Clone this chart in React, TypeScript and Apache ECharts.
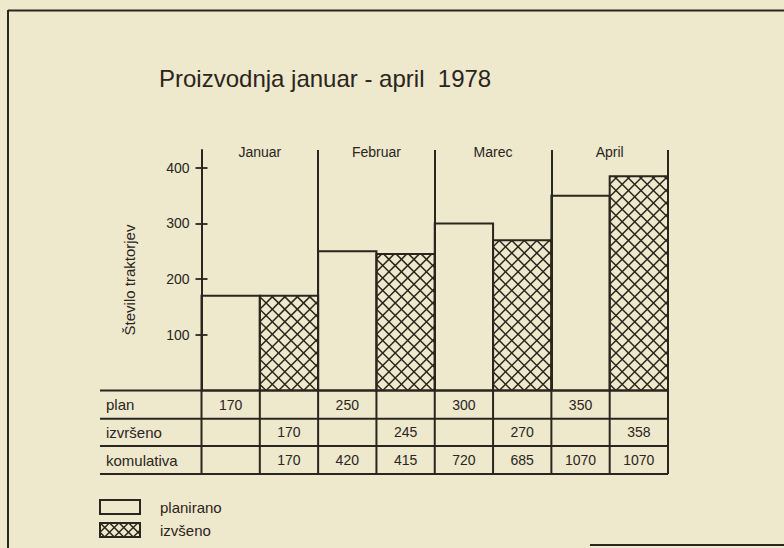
import React, { useEffect, useRef } from "react";
import * as echarts from "echarts";

// ---------- data ----------
const titleText = "Proizvodnja januar - april  1978";
const yAxisName = "Število traktorjev";
const months = ["Januar", "Februar", "Marec", "April"];
const planValues = [170, 250, 300, 350];
// bar heights as drawn (April bar reaches ~385; cumulative 685 + 385 = 1070)
const izvrsenoValues = [170, 245, 270, 385];
const yTickValues = [100, 200, 300, 400];
const rowLabels = ["plan", "izvršeno", "komulativa"];
// table cells exactly as printed
const planTable = ["170", "250", "300", "350"];
const izvrsenoTable = ["170", "245", "270", "358"];
const kumPlanTable = ["", "420", "720", "1070"];
const kumIzvTable = ["170", "415", "685", "1070"];
const legendLabels = ["planirano", "izvšeno"];

// ---------- styling / layout ----------
const W = 784;
const H = 548;
const INK = "#2a251d";
const PAPER = "#eee8cc";
const FONT = "'Liberation Sans', Arial, sans-serif";
const GRID_LEFT = 201.5;
const GRID_RIGHT_X = 668;
const GRID_TOP = 150;
const BASE_Y = 390.5;
const ROW_LINES = [BASE_Y, 418.7, 446, 474];
const TABLE_LEFT = 100;
const Y_MAX = 432;
const HATCH_STEP = 12.5;
const LEGEND_HATCH_STEP = 9.5;
const LW = 2;

function hatchSegments(x0: number, y0: number, x1: number, y1: number, step: number, ax: number, ay: number) {
  const segs: number[][] = [];
  // "\" lines: x - y = c
  const c0 = ax - ay;
  const cmin = x0 - y1;
  const cmax = x1 - y0;
  for (let c = c0 + Math.ceil((cmin - c0) / step) * step; c <= cmax; c += step) {
    const xa = Math.max(x0, y0 + c);
    const xb = Math.min(x1, y1 + c);
    if (xb - xa > 0.3) segs.push([xa, xa - c, xb, xb - c]);
  }
  // "/" lines: x + y = d
  const d0 = ax + ay;
  const dmin = x0 + y0;
  const dmax = x1 + y1;
  for (let d = d0 + Math.ceil((dmin - d0) / step) * step; d <= dmax; d += step) {
    const xa = Math.max(x0, d - y1);
    const xb = Math.min(x1, d - y0);
    if (xb - xa > 0.3) segs.push([xa, d - xa, xb, d - xb]);
  }
  return segs;
}

function hatchedBox(x: number, y: number, w: number, h: number, step: number) {
  const segs = hatchSegments(x, y, x + w, y + h, step, x + step / 2, y + h);
  const children: any[] = segs.map((s) => ({
    type: "line",
    shape: { x1: s[0], y1: s[1], x2: s[2], y2: s[3] },
    style: { stroke: INK, lineWidth: 1.5 },
  }));
  children.push({
    type: "rect",
    shape: { x, y, width: w, height: h },
    style: { fill: "none", stroke: INK, lineWidth: LW },
  });
  return children;
}

function buildGraphic() {
  const g: any[] = [];
  const txt = (text: string, x: number, y: number, size: number, align = "center", extra: any = {}) => ({
    type: "text",
    x,
    y,
    ...extra,
    style: {
      text,
      fill: INK,
      fontSize: size,
      fontFamily: FONT,
      align,
      verticalAlign: "middle",
    },
  });
  // frame of the scanned page
  g.push({ type: "line", shape: { x1: 8, y1: 10.5, x2: W, y2: 10.5 }, style: { stroke: INK, lineWidth: 2 } });
  g.push({ type: "line", shape: { x1: 8, y1: 10, x2: 8, y2: H }, style: { stroke: INK, lineWidth: 2 } });
  g.push({ type: "line", shape: { x1: 590, y1: 545, x2: W, y2: 545 }, style: { stroke: INK, lineWidth: 2 } });

  g.push(txt(titleText, 159, 78, 24, "left"));
  g.push(txt(yAxisName, 129, 280, 15, "center", { rotation: Math.PI / 2 }));

  // table
  const bw = (GRID_RIGHT_X - GRID_LEFT) / months.length;
  ROW_LINES.forEach((y) =>
    g.push({ type: "line", shape: { x1: TABLE_LEFT, y1: y, x2: GRID_RIGHT_X, y2: y }, style: { stroke: INK, lineWidth: LW } })
  );
  for (let k = 0; k <= months.length * 2; k++) {
    const x = GRID_LEFT + (k * bw) / 2;
    g.push({
      type: "line",
      shape: { x1: x, y1: ROW_LINES[0], x2: x, y2: ROW_LINES[3] },
      style: { stroke: INK, lineWidth: LW },
    });
  }
  const empty = months.map(() => "");
  const rows = [
    [planTable, empty],
    [empty, izvrsenoTable],
    [kumPlanTable, kumIzvTable],
  ];
  rows.forEach((r, ri) => {
    const yc = (ROW_LINES[ri] + ROW_LINES[ri + 1]) / 2;
    g.push(txt(rowLabels[ri], TABLE_LEFT + 6, yc, 15, "left"));
    months.forEach((_, i) => {
      const x0 = GRID_LEFT + i * bw;
      if (r[0][i]) g.push(txt(r[0][i], x0 + bw / 4, yc, 14));
      if (r[1][i]) g.push(txt(r[1][i], x0 + (3 * bw) / 4, yc, 14));
    });
  });

  // legend
  g.push({ type: "rect", shape: { x: 100, y: 500, width: 40, height: 14 }, style: { fill: "none", stroke: INK, lineWidth: LW } });
  hatchedBox(100, 523, 40, 14, LEGEND_HATCH_STEP).forEach((c) => g.push(c));
  g.push(txt(legendLabels[0], 160, 507, 15, "left"));
  g.push(txt(legendLabels[1], 160, 530, 15, "left"));
  return g;
}

function buildOption() {
  return {
    animation: false,
    backgroundColor: PAPER,
    grid: {
      left: GRID_LEFT,
      right: W - GRID_RIGHT_X,
      top: GRID_TOP,
      bottom: H - BASE_Y,
    },
    xAxis: [
      {
        type: "category",
        data: months,
        position: "bottom",
        axisLine: { show: false },
        axisTick: { show: false },
        axisLabel: { show: false },
        splitLine: { show: true, interval: 0, lineStyle: { color: INK, width: LW } },
      },
      {
        type: "category",
        data: months,
        position: "top",
        axisLine: { show: false },
        axisTick: { show: false },
        axisLabel: { show: true, interval: 0, margin: -9, color: INK, fontSize: 14, fontFamily: FONT },
        splitLine: { show: false },
      },
    ],
    yAxis: [
      {
        type: "value",
        min: 0,
        max: Y_MAX,
        interval: 100,
        axisLine: { show: true, lineStyle: { color: INK, width: LW } },
        axisTick: { show: true, length: 6, customValues: yTickValues, lineStyle: { color: INK, width: 1.8 } },
        axisLabel: { show: true, customValues: yTickValues, margin: 12, color: INK, fontSize: 14, fontFamily: FONT },
        splitLine: { show: false },
      },
      {
        type: "value",
        min: 0,
        max: Y_MAX,
        interval: 100,
        position: "left",
        axisLine: { show: false },
        axisTick: { show: true, inside: true, length: 6, customValues: yTickValues, lineStyle: { color: INK, width: 1.8 } },
        axisLabel: { show: false },
        splitLine: { show: false },
      },
    ],
    series: [
      {
        name: "planirano",
        type: "custom",
        xAxisIndex: 0,
        yAxisIndex: 0,
        encode: { x: 0, y: 1 },
        data: planValues.map((v, i) => [i, v]),
        renderItem: (_params: any, api: any) => {
          const i = api.value(0);
          const v = api.value(1);
          const top = api.coord([i, v]);
          const base = api.coord([i, 0]);
          const bw = api.size([1, 0])[0];
          return {
            type: "rect",
            shape: { x: top[0] - bw / 2, y: top[1], width: bw / 2, height: base[1] - top[1] },
            style: { fill: "none", stroke: INK, lineWidth: LW },
          };
        },
      },
      {
        name: "izvršeno",
        type: "custom",
        xAxisIndex: 0,
        yAxisIndex: 0,
        encode: { x: 0, y: 1 },
        data: izvrsenoValues.map((v, i) => [i, v]),
        renderItem: (_params: any, api: any) => {
          const i = api.value(0);
          const v = api.value(1);
          const top = api.coord([i, v]);
          const base = api.coord([i, 0]);
          const bw = api.size([1, 0])[0];
          return {
            type: "group",
            children: hatchedBox(top[0], top[1], bw / 2, base[1] - top[1], HATCH_STEP),
          };
        },
      },
    ],
    graphic: buildGraphic(),
  };
}

export default function App() {
  const ref = useRef<HTMLDivElement>(null);
  useEffect(() => {
    document.body.style.margin = "0";
    document.body.style.background = PAPER;
    const chart = echarts.init(ref.current!, null, { renderer: "svg", width: W, height: H });
    chart.setOption(buildOption() as any);
    return () => chart.dispose();
  }, []);
  return <div ref={ref} style={{ width: W, height: H }} />;
}
